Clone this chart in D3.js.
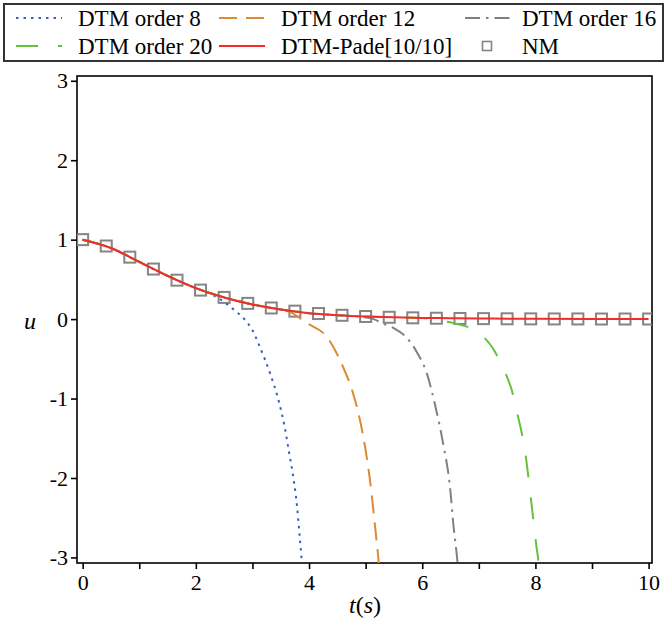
<!DOCTYPE html>
<html>
<head>
<meta charset="utf-8">
<script src="https://cdn.jsdelivr.net/npm/d3@7"></script>
<style>
  body { margin: 0; background: #fff; }
</style>
</head>
<body>
<svg id="chart" width="669" height="624" font-family="Liberation Serif, DejaVu Serif, serif"></svg>
<script>
var serif = "Liberation Serif, DejaVu Serif, serif";

// values
var xTicks = [0, 1, 2, 3, 4, 5, 6, 7, 8, 9, 10];
var xLabels = [0, 2, 4, 6, 8, 10];
var yTicks = [-3, -2, -1, 0, 1, 2, 3];

// DTM-Pade[10/10]
var padeT = [0, 0.5, 1, 1.5, 2, 2.5, 3, 3.5, 4, 4.5, 5, 5.5, 6, 6.5, 7, 7.5, 8, 9, 10];
var padeU = [1, 0.895, 0.72, 0.545, 0.39, 0.273, 0.185, 0.12, 0.075, 0.05, 0.033, 0.022, 0.015, 0.011, 0.008, 0.005, 0.004, 0.002, 0.001];

// NM (squares)
var nmT = [0, 0.417, 0.833, 1.25, 1.667, 2.083, 2.5, 2.917, 3.333, 3.75, 4.167, 4.583, 5, 5.417, 5.833, 6.25, 6.667, 7.083, 7.5, 7.917, 8.333, 8.75, 9.167, 9.583, 10];
var nmU = [1, 0.92, 0.78, 0.63, 0.49, 0.365, 0.273, 0.198, 0.14, 0.1, 0.07, 0.048, 0.033, 0.023, 0.016, 0.011, 0.008, 0.006, 0.004, 0.003, 0.002, 0.002, 0.001, 0.001, 0.001];

// DTM truncated series
var dtm8T = [0, 0.5, 1, 1.5, 2, 2.2, 2.43, 2.6, 2.72, 2.87, 3.0, 3.13, 3.31, 3.46, 3.57, 3.65, 3.73, 3.79, 3.83, 3.87, 3.9];
var dtm8U = [1, 0.895, 0.72, 0.545, 0.39, 0.335, 0.25, 0.16, 0.09, -0.01, -0.14, -0.35, -0.68, -1.02, -1.36, -1.69, -2.03, -2.37, -2.7, -3.03, -3.3];

var dtm12T = [0, 0.5, 1, 1.5, 2, 2.5, 3, 3.3, 3.66, 3.96, 4.31, 4.6, 4.78, 4.9, 4.99, 5.07, 5.13, 5.18, 5.225, 5.26];
var dtm12U = [1, 0.895, 0.72, 0.545, 0.39, 0.273, 0.185, 0.145, 0.09, -0.05, -0.22, -0.6, -0.94, -1.27, -1.61, -1.99, -2.36, -2.7, -3.01, -3.3];

var dtm16T = [0, 0.5, 1, 1.5, 2, 2.5, 3, 3.5, 4, 4.5, 4.9, 5.14, 5.31, 5.49, 5.72, 5.9, 6.08, 6.22, 6.37, 6.49, 6.555, 6.615, 6.65];
var dtm16U = [1, 0.895, 0.72, 0.545, 0.39, 0.273, 0.185, 0.12, 0.075, 0.05, 0.03, 0.0, -0.055, -0.11, -0.23, -0.41, -0.68, -1.06, -1.57, -2.11, -2.62, -3.0, -3.3];

var dtm20T = [0, 0.5, 1, 1.5, 2, 2.5, 3, 3.5, 4, 4.5, 5, 5.5, 6, 6.22, 6.58, 6.99, 7.25, 7.43, 7.58, 7.68, 7.76, 7.83, 7.88, 7.93, 7.97, 8.02, 8.045, 8.07];
var dtm20U = [1, 0.895, 0.72, 0.545, 0.39, 0.273, 0.185, 0.12, 0.075, 0.05, 0.033, 0.022, 0.015, -0.013, -0.055, -0.17, -0.37, -0.62, -0.89, -1.19, -1.44, -1.73, -2.01, -2.32, -2.57, -2.87, -3.0, -3.2];

function zip(ts, us) { return ts.map(function(t, i) { return [t, us[i]]; }); }

var series = [
  {name: "DTM order 8",  data: zip(dtm8T, dtm8U),  color: "#3b5cc4", dash: "2.5,5",       width: 2},
  {name: "DTM order 12", data: zip(dtm12T, dtm12U), color: "#dc8a34", dash: "18,9",        width: 2},
  {name: "DTM order 16", data: zip(dtm16T, dtm16U), color: "#808080", dash: "15,6,2.5,6",  width: 2},
  {name: "DTM order 20", data: zip(dtm20T, dtm20U), color: "#66c040", dash: "22,20",       width: 2},
  {name: "DTM-Pade[10/10]", data: zip(padeT, padeU), color: "#f52a2a", dash: null,          width: 2}
];

var svg = d3.select("#chart");

var x = d3.scaleLinear().domain([-0.1, 10.06]).range([77, 652]);
var y = d3.scaleLinear().domain([-3.07, 3.06]).range([563, 76]);

svg.append("clipPath").attr("id", "plot-clip")
  .append("rect")
    .attr("x", 77).attr("y", 76).attr("width", 575).attr("height", 487);

// frame
svg.append("rect")
  .attr("x", 77).attr("y", 76).attr("width", 575).attr("height", 487)
  .attr("fill", "none").attr("stroke", "#000").attr("stroke-width", 1.6);

// x axis
var xAxis = svg.append("g")
  .attr("transform", "translate(0,563)")
  .call(d3.axisBottom(x).tickValues(xTicks).tickSize(6).tickSizeOuter(0)
        .tickFormat(function(d) { return xLabels.indexOf(d) >= 0 ? String(d) : ""; }));
xAxis.attr("font-family", serif);
xAxis.select(".domain").remove();
xAxis.selectAll("line").attr("stroke-width", 1.6);
xAxis.selectAll("text").attr("font-family", serif).attr("font-size", 22)
  .attr("dy", "0.85em").attr("y", 8);

// y axis
var yAxis = svg.append("g")
  .attr("transform", "translate(77,0)")
  .call(d3.axisLeft(y).tickValues(yTicks).tickSize(6).tickSizeOuter(0)
        .tickFormat(function(d) { return String(d); }));
yAxis.attr("font-family", serif);
yAxis.select(".domain").remove();
yAxis.selectAll("line").attr("stroke-width", 1.6);
yAxis.selectAll("text").attr("font-family", serif).attr("font-size", 22).attr("x", -9);

// axis titles
svg.append("text").attr("x", 30).attr("y", 329).attr("text-anchor", "middle")
  .attr("font-family", serif).attr("font-size", 24).attr("font-style", "italic").text("u");
var xt = svg.append("text").attr("x", 365).attr("y", 613).attr("text-anchor", "middle")
  .attr("font-family", serif).attr("font-size", 24);
xt.append("tspan").attr("font-style", "italic").text("t");
xt.append("tspan").text("(");
xt.append("tspan").attr("font-style", "italic").text("s");
xt.append("tspan").text(")");

// curves
var line = d3.line()
  .x(function(d) { return x(d[0]); })
  .y(function(d) { return y(d[1]); })
  .curve(d3.curveMonotoneX);

var plot = svg.append("g").attr("clip-path", "url(#plot-clip)");

// NM squares
plot.selectAll("rect.nm")
  .data(zip(nmT, nmU))
  .enter()
  .append("rect")
    .attr("class", "nm")
    .attr("x", function(d) { return x(d[0]) - 5.5; })
    .attr("y", function(d) { return y(d[1]) - 5.5; })
    .attr("width", 11).attr("height", 11)
    .attr("fill", "none").attr("stroke", "#858585").attr("stroke-width", 2);

plot.selectAll("path.curve")
  .data(series)
  .enter()
  .append("path")
    .attr("class", "curve")
    .attr("d", function(d) { return line(d.data); })
    .attr("fill", "none")
    .attr("stroke", function(d) { return d.color; })
    .attr("stroke-width", function(d) { return d.width; })
    .attr("stroke-dasharray", function(d) { return d.dash; });

// legend
svg.append("rect")
  .attr("x", 4).attr("y", 4).attr("width", 659).attr("height", 57)
  .attr("fill", "#fff").attr("stroke", "#333").attr("stroke-width", 2);

var legendItems = [
  {s: series[0], col: 0, row: 0},
  {s: series[1], col: 1, row: 0},
  {s: series[2], col: 2, row: 0},
  {s: series[3], col: 0, row: 1},
  {s: series[4], col: 1, row: 1},
  {s: {name: "NM"}, col: 2, row: 1, square: true}
];
var colX = [16, 219, 465];
var textX = [78, 281, 522];
var rowY = [18, 46];

legendItems.forEach(function(it) {
  var cy = rowY[it.row];
  if (it.square) {
    svg.append("rect")
      .attr("x", 487 - 4.5).attr("y", cy - 4.5).attr("width", 9).attr("height", 9)
      .attr("fill", "none").attr("stroke", "#858585").attr("stroke-width", 1.6);
  } else {
    svg.append("line")
      .attr("x1", colX[it.col]).attr("x2", colX[it.col] + 46)
      .attr("y1", cy).attr("y2", cy)
      .attr("stroke", it.s.color).attr("stroke-width", 2)
      .attr("stroke-dasharray", it.s.dash);
  }
  svg.append("text")
    .attr("x", textX[it.col]).attr("y", cy + 7.5)
    .attr("font-family", serif)
    .attr("font-size", 23)
    .text(it.s.name);
});
</script>
</body>
</html>
